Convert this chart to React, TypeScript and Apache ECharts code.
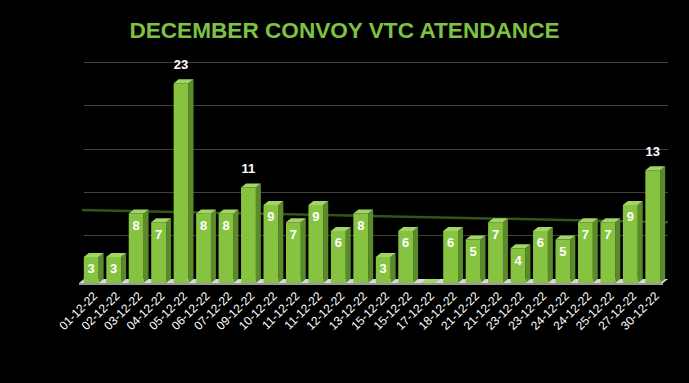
import React, { useEffect, useRef } from 'react';
import * as echarts from 'echarts';

const titleText = 'DECEMBER CONVOY VTC ATENDANCE';

const categories = [
  '01-12-22', '02-12-22', '03-12-22', '04-12-22', '05-12-22', '06-12-22',
  '07-12-22', '09-12-22', '10-12-22', '11-12-22', '11-12-22', '12-12-22',
  '13-12-22', '15-12-22', '15-12-22', '17-12-22', '18-12-22', '21-12-22',
  '21-12-22', '23-12-22', '23-12-22', '24-12-22', '24-12-22', '25-12-22',
  '27-12-22', '30-12-22',
];

const attendance = [3, 3, 8, 7, 23, 8, 8, 11, 9, 7, 9, 6, 8, 3, 6, 0, 6, 5, 7, 4, 6, 5, 7, 7, 9, 13];

// linear trendline end points
const trendLine = [
  [-0.75, 7.95],
  [25.5, 6.55],
];

const yMax = 25;
const yInterval = 5;

export default function App() {
  const ref = useRef<HTMLDivElement>(null);

  useEffect(() => {
    if (!ref.current) return;
    const chart = echarts.init(ref.current, undefined, { renderer: 'svg' });
    const font = 'Liberation Sans, Arial, sans-serif';
    const dx = 5;
    const dy = 4;

    const option: any = {
      animation: false,
      backgroundColor: '#000000',
      title: {
        text: titleText,
        left: 'center',
        top: 14,
        textStyle: { color: '#7dc242', fontSize: 22.6, fontWeight: 'bold', fontFamily: font },
      },
      grid: { left: 84, right: 21, top: 62, bottom: 104 },
      xAxis: [
        {
          type: 'category',
          data: categories,
          axisLine: { show: false },
          axisTick: { show: false },
          axisLabel: { rotate: 45, color: '#ffffff', fontSize: 12, margin: 15, interval: 0, fontFamily: font },
        },
        { type: 'value', min: -0.5, max: 25.5, show: false },
      ],
      yAxis: {
        type: 'value',
        min: 0,
        max: yMax,
        interval: yInterval,
        axisLabel: { show: false },
        axisLine: { show: false },
        axisTick: { show: false },
        splitLine: { lineStyle: { color: '#404040', width: 1 } },
      },
      series: [
        {
          type: 'custom',
          name: 'floor',
          xAxisIndex: 0,
          z: 1,
          silent: true,
          data: [[0, 0]],
          renderItem: (params: any) => {
            const cs = params.coordSys;
            const x = cs.x;
            const yb = cs.y + cs.height;
            const w = cs.width;
            return {
              type: 'group',
              children: [
                {
                  type: 'polygon',
                  shape: { points: [[x, yb], [x + w, yb], [x + w - dx, yb + dy], [x - dx, yb + dy]] },
                  style: { fill: '#d9d9d9' },
                },
                {
                  type: 'rect',
                  shape: { x: x - dx, y: yb + dy, width: w, height: 2 },
                  style: { fill: '#9a9a9a' },
                },
              ],
            };
          },
        },
        {
          type: 'line',
          name: 'trend',
          xAxisIndex: 1,
          z: 2,
          symbol: 'none',
          silent: true,
          data: trendLine,
          lineStyle: { color: '#34531a', width: 2.5 },
        },
        {
          type: 'custom',
          name: 'attendance',
          xAxisIndex: 0,
          z: 3,
          data: attendance.map((v, i) => [i, v]),
          renderItem: (params: any, api: any) => {
            const i = api.value(0);
            const v = api.value(1);
            const base = api.coord([i, 0]);
            const top = api.coord([i, v]);
            const band = api.size([1, 0])[0];
            const w = band * 0.66;
            const cx = base[0] - 4;
            const x0 = cx - w / 2;
            const x1 = cx + w / 2;
            const yb = base[1] + dy;
            const yt = top[1] + dy;
            const children: any[] = [
              {
                type: 'polygon',
                shape: { points: [[x1, yt], [x1 + dx, yt - dy], [x1 + dx, yb - dy], [x1, yb]] },
                style: { fill: '#5a8a2a' },
              },
              {
                type: 'rect',
                shape: { x: x0, y: yt, width: w, height: yb - yt },
                style: { fill: '#86c341' },
              },
              {
                type: 'polygon',
                shape: { points: [[x0, yt], [x1, yt], [x1 + dx, yt - dy], [x0 + dx, yt - dy]] },
                style: { fill: '#a2d466' },
              },
            ];
            if (v > 0) {
              const inside = v < 10;
              children.push({
                type: 'text',
                x: cx,
                y: inside ? yt + 12 : yt - dy - 15,
                style: {
                  text: String(v),
                  fill: '#ffffff',
                  font: `bold 13px ${font}`,
                  align: 'center',
                  verticalAlign: 'middle',
                },
              });
            }
            return { type: 'group', children };
          },
        },
      ],
    };

    chart.setOption(option);
    return () => chart.dispose();
  }, []);

  return (
    <div
      ref={ref}
      style={{ position: 'absolute', left: 0, top: 0, width: 689, height: 383 }}
    />
  );
}
